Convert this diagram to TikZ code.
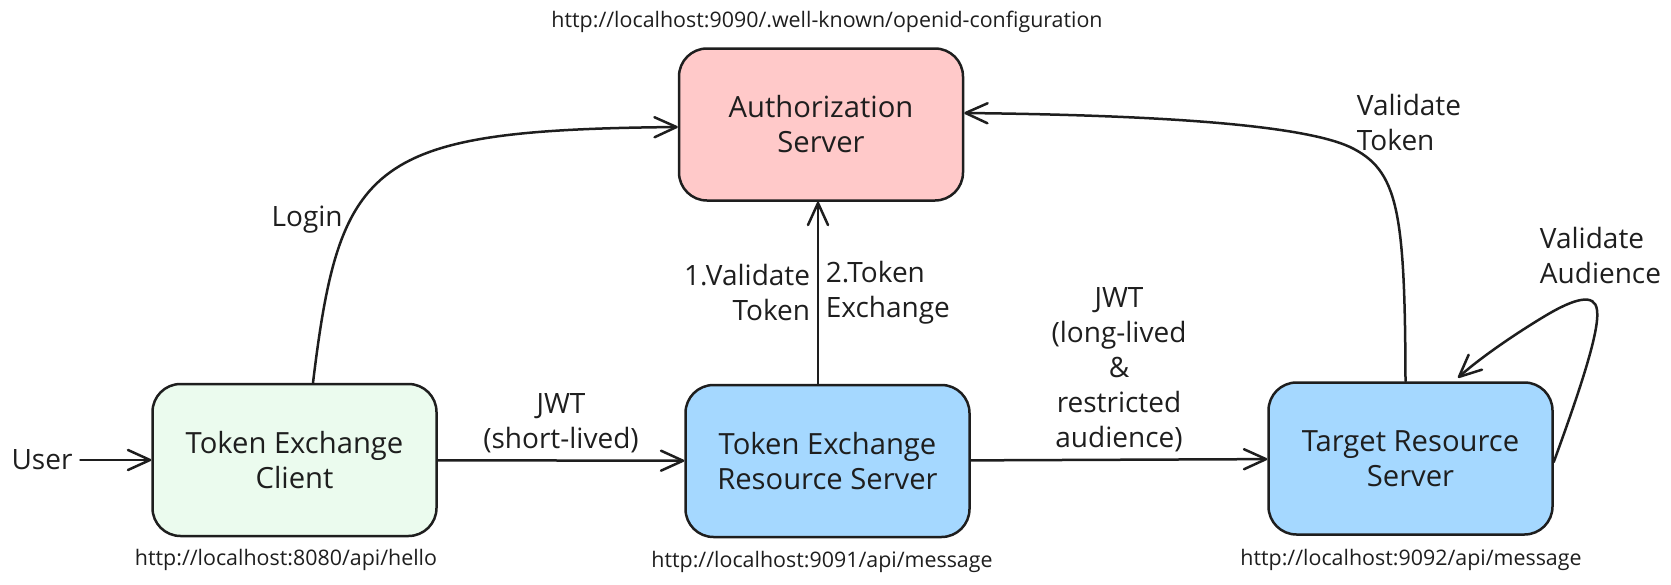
\documentclass[tikz,border=0pt]{standalone}
\usepackage{fontspec}
\setmainfont{Open Sans}
\usetikzlibrary{arrows.meta}
\definecolor{ink}{HTML}{1E1E1E}
\definecolor{authfill}{HTML}{FFC9C9}
\definecolor{clientfill}{HTML}{EBFBEE}
\definecolor{serverfill}{HTML}{A5D8FF}
\begin{document}
\begin{tikzpicture}[x=0.5pt, y=-0.5pt, line width=1.25pt, color=ink,
		box/.style={draw=ink, rounded corners=14pt, minimum width=142pt, minimum height=76pt, align=center, font=\fontsize{14.6}{17.5}\selectfont},
		lbl/.style={align=center, font=\fontsize{14}{17.5}\selectfont},
		url/.style={font=\fontsize{10.7}{12}\selectfont},
		arr/.style={-{Straight Barb[length=11pt, width=10pt, round]}, line cap=round}]
		\useasboundingbox (0,0) rectangle (1671,584);
		\node[box, fill=authfill] (auth) at (821,124.5) {Authorization\\Server};
		\node[box, fill=clientfill] (client) at (294.5,460) {Token Exchange\\Client};
		\node[box, fill=serverfill] (ters) at (827.5,461) {Token Exchange\\Resource Server};
		\node[box, fill=serverfill] (target) at (1410.5,458.5) {Target Resource\\Server};
		\node[url] (authurl) at (827,22) {http://localhost:9090/.well-known/openid-configuration};
		\node[url] (clienturl) at (286,560) {http://localhost:8080/api/hello};
		\node[url] (tersurl) at (822,562) {http://localhost:9091/api/message};
		\node[url] (targeturl) at (1411,560) {http://localhost:9092/api/message};
		\node[lbl] (user) at (42,460) {User};
		\draw[arr] (user) -- (client);
		\draw[arr] (client) -- (ters) node[midway, above, lbl] {JWT\\(short-lived)};
		\draw[arr] (ters) -- (target) node[midway, above, lbl] {JWT\\(long-lived\\\&\\restricted\\audience)};
		\coordinate (up) at ([xshift=-4.75pt]ters.north);
		\draw[arr] (up) -- (up |- auth.south) node[midway, left, lbl, align=right] {1.Validate\\Token} node[midway, right, lbl, align=left] {2.Token\\Exchange};
		\draw[arr] ([xshift=9.25pt]client.north) .. controls (340,160) and (370,130) .. ([yshift=-1.25pt]auth.west) node[pos=0.33, left, lbl] {Login};
		\draw[arr] ([xshift=-2.5pt]target.north) .. controls (1405,210) and (1398,170) .. (1350,147) .. controls (1300,124) and (1150,115) .. ([yshift=5.75pt]auth.east);
		\node[lbl, anchor=west, align=left] (valtoken) at (1349,122.5) {Validate\\Token};
		\draw[arr] ([yshift=-1.75pt]target.east) .. controls (1580,390) and (1600,330) .. (1597,310) .. controls (1595,293) and (1575,298) .. (1545,316) .. controls (1515,334) and (1480,358) .. ([xshift=23.75pt, yshift=1.75pt]target.north);
		\node[lbl, anchor=west, align=left] (valaud) at (1532,255) {Validate\\Audience};
	\end{tikzpicture}
\end{document}
